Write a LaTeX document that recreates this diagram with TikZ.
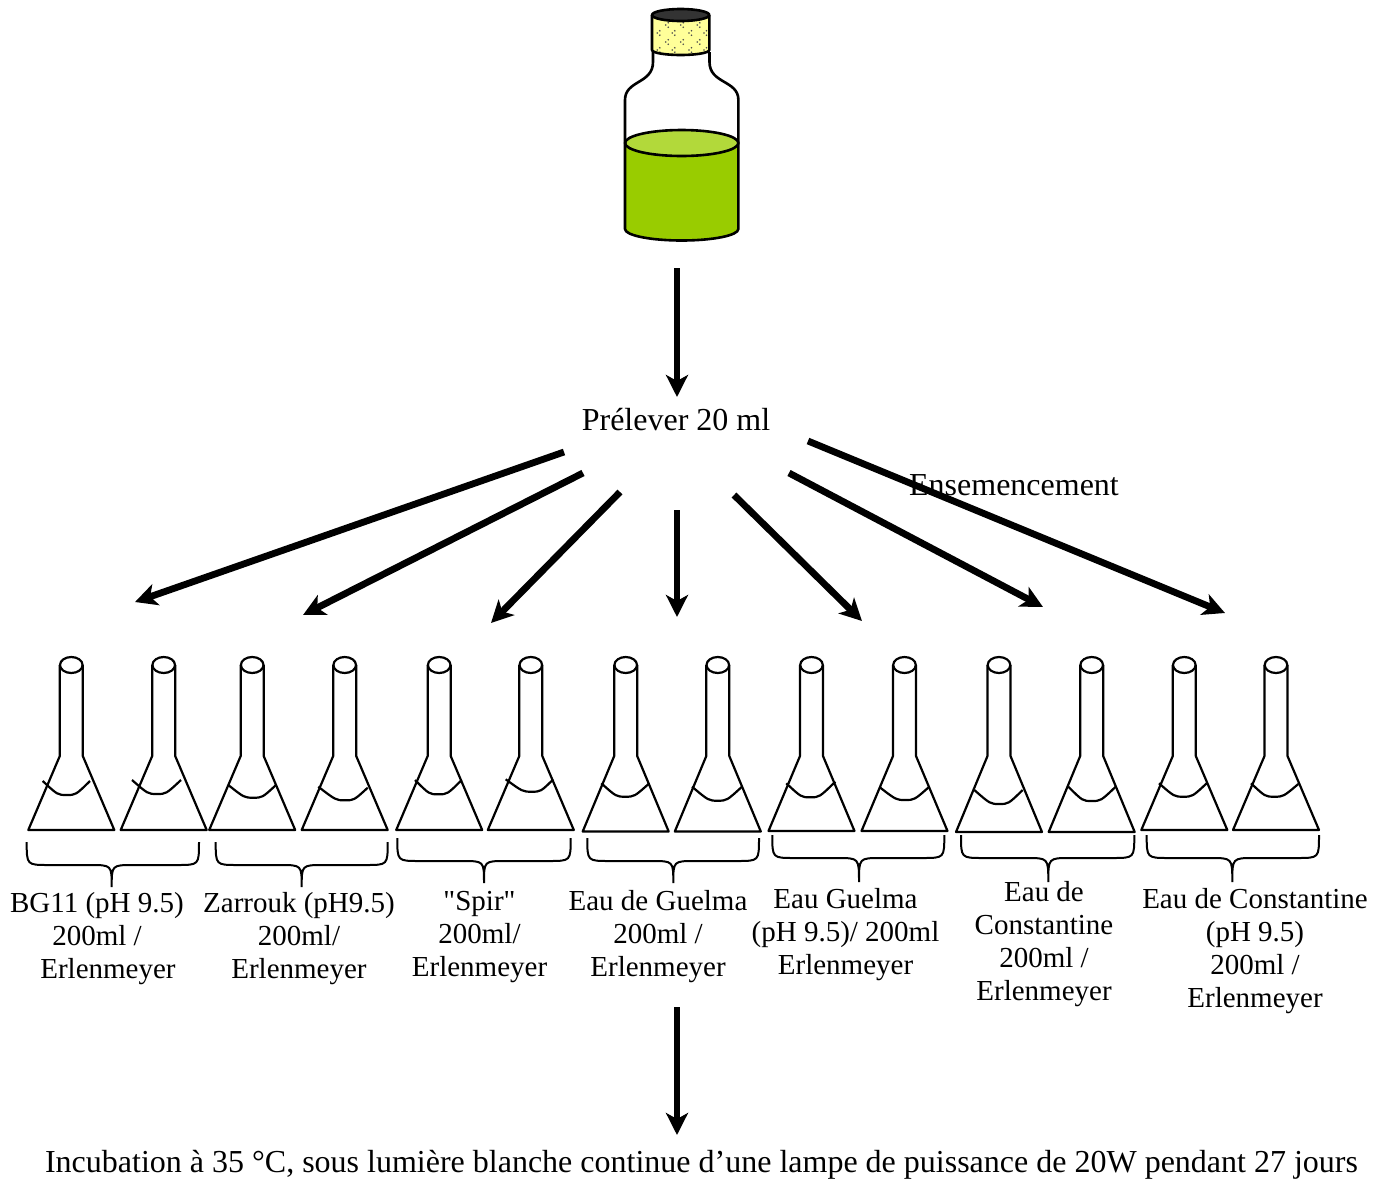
\documentclass[tikz,border=0pt]{standalone}
\usepackage{fontspec}
\setmainfont{Liberation Serif}[Ligatures=TeXOff]
\usetikzlibrary{arrows.meta}

\definecolor{liquid}{HTML}{99CC00}
\definecolor{liquidtop}{HTML}{B2D93A}
\definecolor{corkfill}{HTML}{FFFF99}
\definecolor{corktop}{HTML}{333333}
\definecolor{corkdot}{HTML}{4D4D4D}

\tikzset{
  flow/.style={line width=3.4pt, -{Stealth[length=11pt,width=11pt,inset=3pt]}},
  glass/.style={line width=1.1pt, line join=round},
  bottleline/.style={line width=1.3pt, line join=round},
  bracket/.style={line width=1pt},
  caption/.style={font=\fontsize{14.5}{16.5}\selectfont, align=center, anchor=north, inner sep=0pt},
  heading/.style={font=\fontsize{16}{18}\selectfont, anchor=base, inner sep=0pt},
}

% Erlenmeyer flask: #1 centre x, #2 base y, #3/#4 left end of the liquid line,
% #5/#6 lowest point of the liquid line, #7/#8 right end of the liquid line
\newcommand\erlen[8]{%
  \draw[glass] (#1,665) ellipse [x radius=11.3, y radius=8];
  \draw[glass] (#1-11.5,665) -- (#1-11.5,756) -- (#1-43,#2) -- (#1+43,#2)
               -- (#1+11.5,756) -- (#1+11.5,665);
  \draw[glass] (#3,#4) .. controls (#5-9,#6) .. (#5,#6)
               .. controls (#5+9,#6) .. (#7,#8);
}

% Curly bracket under a pair of flasks: #1 left x, #2 right x, #3 tip x,
% #4 top y, #5 tip y
\newcommand\pairbrace[5]{%
  \draw[bracket] (#1,#4) .. controls (#1,#4+23) .. (#1+22,#4+23)
     -- (#3-22,#4+23) .. controls (#3,#4+23) .. (#3,#5)
     .. controls (#3,#4+23) .. (#3+22,#4+23)
     -- (#2-22,#4+23) .. controls (#2,#4+23) .. (#2,#4);
}

\begin{document}
\begin{tikzpicture}[x=0.5pt,y=-0.5pt]
\useasboundingbox (0,0) rectangle (1388,1184);

% ---------- culture bottle ----------
% liquid
\fill[liquid] (625,143) rectangle (738.4,229);
\fill[liquid] (681.7,229) ellipse [x radius=56.7, y radius=11.5];
\filldraw[fill=liquidtop, bottleline] (681.7,143) ellipse [x radius=56.7, y radius=13];
% glass outline
\draw[bottleline] (653,52) -- (653,62) .. controls (653,84) and (625,80) .. (625,100)
  -- (625,229) arc [start angle=180, end angle=0, x radius=56.7, y radius=11.5]
  -- (738.4,100) .. controls (738.4,80) and (709.5,84) .. (709.5,62) -- (709.5,52);
% cork
\fill[corkfill] (652,15) -- (652,50) arc [start angle=180, end angle=0, x radius=28.65, y radius=5]
  -- (709.3,15) -- cycle;
\begin{scope}
  \clip (652,15) -- (652,50) arc [start angle=180, end angle=0, x radius=28.65, y radius=5]
    -- (709.3,15) -- cycle;
  \foreach \cx in {666.7,681.7,698.3}
    \foreach \cy in {25,42}
      \fill[corkdot] (\cx+1.5,\cy-2.2) circle [radius=0.9] (\cx-1,\cy) circle [radius=0.9]
                     (\cx+1.5,\cy+2.2) circle [radius=0.9];
  \foreach \cx in {658.3,673.3,690,705}
    \foreach \cy in {33,50}
      \fill[corkdot] (\cx+1.5,\cy-2.2) circle [radius=0.9] (\cx-1,\cy) circle [radius=0.9]
                     (\cx+1.5,\cy+2.2) circle [radius=0.9];
\end{scope}
\draw[bottleline] (652,15) -- (652,50) arc [start angle=180, end angle=0, x radius=28.65, y radius=5]
  -- (709.3,15);
\filldraw[fill=corktop, bottleline] (680.65,15) ellipse [x radius=28.65, y radius=6];

% ---------- texts ----------
\node[heading] (sample) at (676,430) {Prélever 20 ml};
\node[heading] (seed) at (1014,495) {Ensemencement};
\node[heading] (incub) at (701.5,1172)
  {Incubation à 35 °C, sous lumière blanche continue d’une lampe de puissance de 20W pendant 27 jours};

% ---------- arrows ----------
\coordinate (b0) at (677,268);  \coordinate (t0) at (677,397);
\coordinate (s1) at (564,452);  \coordinate (t1) at (135,602);
\coordinate (s2) at (583,473);  \coordinate (t2) at (303,615);
\coordinate (s3) at (620,492);  \coordinate (t3) at (491,623);
\coordinate (s4) at (677,510);  \coordinate (t4) at (677,617);
\coordinate (s5) at (734,495);  \coordinate (t5) at (862,621);
\coordinate (s6) at (789,473);  \coordinate (t6) at (1043,607);
\coordinate (s7) at (808,441);  \coordinate (t7) at (1225,613);
\coordinate (s8) at (677,1007); \coordinate (t8) at (677,1135);

\draw[flow] (b0) -- (t0);
\foreach \i in {1,...,8} \draw[flow] (s\i) -- (t\i);

% ---------- flasks ----------
\erlen{71.3}{830}{42.7}{781}{66.7}{795}{90}{781}
\erlen{163.7}{830}{132}{780}{157}{794}{181}{780}
\erlen{252.2}{830}{228.3}{785}{253.3}{797.7}{276}{785}
\erlen{344.7}{830}{318.3}{786.7}{345}{800.3}{367.7}{787.7}
\erlen{439.2}{830}{415}{780}{438.3}{794.3}{461.7}{780}
\erlen{530.8}{830}{505.7}{779.3}{531.7}{791.7}{553.3}{779.3}
\erlen{625.7}{831.5}{601.3}{783.3}{625.3}{796.7}{649.3}{783.3}
\erlen{717.8}{831.5}{692}{786.7}{717.7}{800.7}{742}{786.7}
\erlen{811.5}{831}{786.3}{783.3}{810.3}{797.3}{835.3}{781.7}
\erlen{904.5}{831}{880.3}{787.7}{905.3}{800}{929.3}{786.7}
\erlen{999}{832}{974.3}{790}{999.3}{804}{1022.7}{790}
\erlen{1091.7}{832}{1068.3}{786.7}{1091.7}{801}{1115.7}{786.7}
\erlen{1184.3}{830}{1159}{783.3}{1183.3}{796.7}{1206.7}{783.3}
\erlen{1276}{830}{1251}{783.3}{1274.3}{796.7}{1298.3}{784}

% ---------- brackets ----------
\pairbrace{26.7}{199}{111.7}{842}{887}
\pairbrace{215.7}{387.7}{301.7}{842}{887}
\pairbrace{397.3}{570.7}{484}{838}{883}
\pairbrace{587.3}{759}{673.3}{838}{883}
\pairbrace{772.3}{944.3}{859}{835}{882}
\pairbrace{961}{1134.3}{1048.3}{835}{882}
\pairbrace{1146.7}{1319}{1232.3}{835}{882}

% ---------- media labels (first baseline minus strut height) ----------
\node[caption] (m1) at (97,888.9) {\strut BG11 (pH 9.5)\\200ml /\\\hspace*{11pt}Erlenmeyer};
\node[caption] (m2) at (299,888.9) {\strut Zarrouk (pH9.5)\\200ml/\\Erlenmeyer};
\node[caption] (m3) at (479.5,886.9) {\strut "Spir"\\200ml/\\Erlenmeyer};
\node[caption] (m4) at (658,886.9) {\strut Eau de Guelma\\200ml /\\Erlenmeyer};
\node[caption] (m5) at (845.5,884.9) {\strut Eau Guelma\\(pH 9.5)/ 200ml\\Erlenmeyer};
\node[caption] (m6) at (1044,877.9) {\strut Eau de\\Constantine\\200ml /\\Erlenmeyer};
\node[caption] (m7) at (1255,884.9) {\strut Eau de Constantine\\(pH 9.5)\\200ml /\\Erlenmeyer};

\end{tikzpicture}
\end{document}
